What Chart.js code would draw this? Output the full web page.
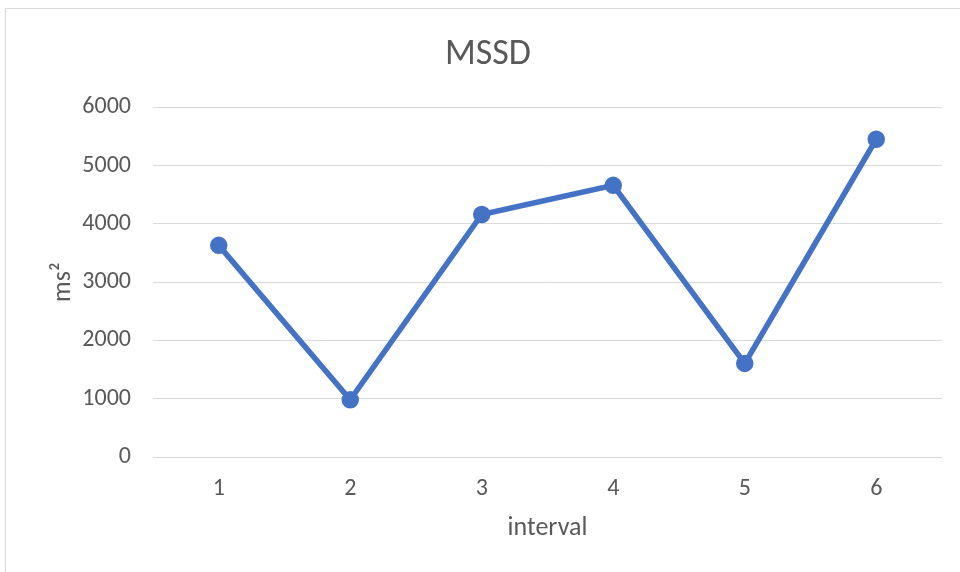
<!DOCTYPE html>
<html>
<head>
<meta charset="utf-8">
<script src="https://cdn.jsdelivr.net/npm/chart.js@4"></script>
<style>
  body { margin: 0; background: #fff; overflow: hidden; }
  #frame { position: absolute; left: 5px; top: 8px; width: 1000px; height: 600px; border: 1px solid #d9d9d9; }
  #chart { position: absolute; left: 0; top: 0; }
</style>
</head>
<body>
<div id="frame"></div>
<canvas id="chart" width="960" height="572"></canvas>
<script>
// data
const intervals = ['1', '2', '3', '4', '5', '6'];
const mssd = [3630, 980, 4160, 4660, 1605, 5450];
const yTicks = [0, 1000, 2000, 3000, 4000, 5000, 6000];

const textColor = '#595959';
const gridColor = '#d9d9d9';
const fontFamily = "Carlito, 'Noto Sans', sans-serif";

const ctx = document.getElementById('chart').getContext('2d');
new Chart(ctx, {
    type: 'line',
    data: {
        labels: intervals,
        datasets: [{
            data: mssd,
            borderColor: '#4472c4',
            backgroundColor: '#4472c4',
            borderWidth: 5.5,
            pointRadius: 6,
            pointHoverRadius: 6,
            tension: 0
        }]
    },
    options: {
        responsive: false,
        animation: false,
        layout: { padding: { left: 34, right: 18, top: 0, bottom: 0 } },
        plugins: {
            legend: { display: false },
            tooltip: { enabled: false },
            title: {
                display: true,
                text: 'MSSD',
                color: textColor,
                font: { family: fontFamily, size: 36, weight: 'normal', lineHeight: 1.2 },
                padding: { top: 33, bottom: 31 }
            }
        },
        scales: {
            x: {
                offset: true,
                grid: { display: false },
                border: { display: false },
                ticks: { color: textColor, padding: 10, font: { family: fontFamily, size: 24 } },
                title: {
                    display: true,
                    text: 'interval',
                    color: textColor,
                    font: { family: fontFamily, size: 26 },
                    padding: { top: 0, bottom: 28 }
                },
                afterFit: scale => { scale.height = 115; }
            },
            y: {
                min: 0,
                max: 6000,
                afterBuildTicks: scale => { scale.ticks = yTicks.map(v => ({ value: v })); },
                grid: { color: gridColor, lineWidth: 1, drawTicks: false },
                border: { display: false },
                ticks: {
                    color: textColor,
                    padding: 22,
                    font: { family: fontFamily, size: 24 },
                    callback: v => String(v)
                },
                title: {
                    display: true,
                    text: 'ms²',
                    color: textColor,
                    font: { family: fontFamily, size: 26 },
                    padding: { top: 14, bottom: 0 }
                },
                afterFit: scale => { scale.width = 119; }
            }
        }
    }
});
</script>
</body>
</html>
